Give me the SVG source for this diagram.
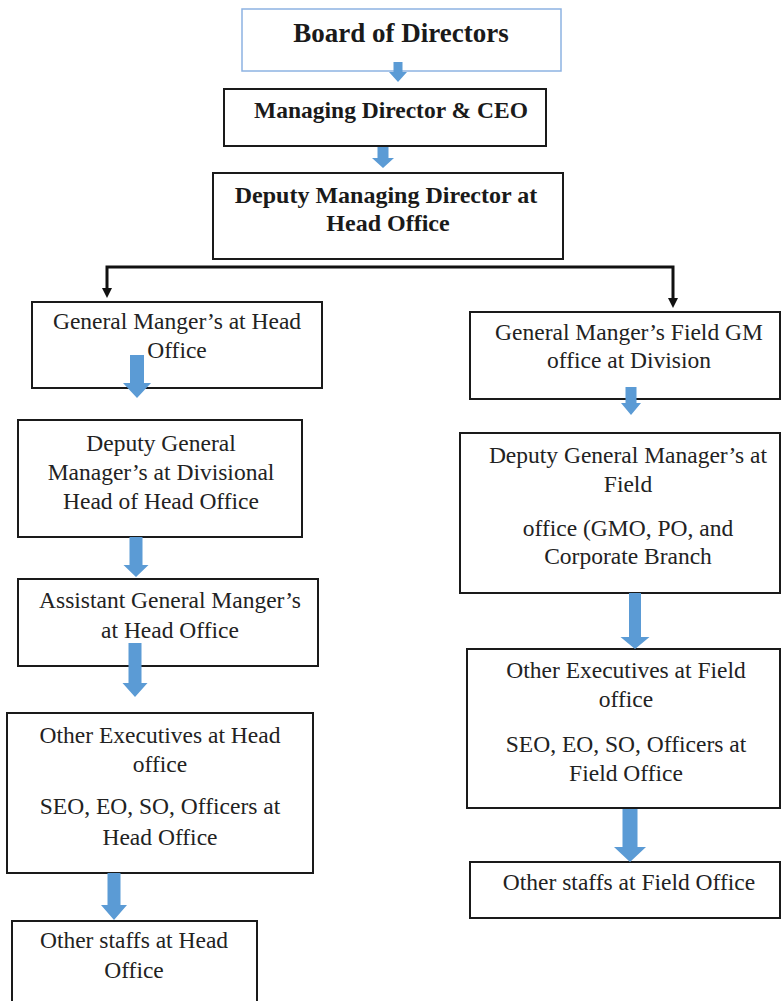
<svg xmlns="http://www.w3.org/2000/svg" width="782" height="1001" viewBox="0 0 782 1001">
<style>
.box{fill:#fff;stroke:#1a1a1a;stroke-width:2}
.bod{fill:#fff;stroke:#8DB3E2;stroke-width:1.5}
.t{font-family:"Liberation Serif","Times New Roman",serif;font-size:23.5px;fill:#222;text-anchor:middle}
.b{font-family:"Liberation Serif","Times New Roman",serif;font-weight:bold;fill:#1a1a1a;text-anchor:middle}
.ba{fill:#5B9BD5}
.conn{fill:none;stroke:#111;stroke-width:3}
</style>
<defs>
<marker id="ah" viewBox="0 0 10 10" refX="0" refY="5" markerWidth="10" markerHeight="10" markerUnits="userSpaceOnUse" orient="auto-start-reverse">
<path d="M0,0 L10,5 L0,10 z" fill="#111"/>
</marker>
</defs>
<rect width="782" height="1001" fill="#fff"/>

<g id="connectors">
<path class="conn" d="M107,288 L107,267 L673,267 L673,298" marker-start="url(#ah)" marker-end="url(#ah)"/>
</g>

<g id="board">
<rect class="bod" x="242" y="9" width="319" height="62"/>
<text class="b" x="401" y="42" font-size="27">Board of Directors</text>
</g>
<g id="md">
<rect class="box" x="224" y="89" width="322" height="57"/>
<text class="b" x="391" y="118" font-size="23.5">Managing Director &amp; CEO</text>
</g>
<g id="dmd">
<rect class="box" x="213" y="173" width="350" height="86"/>
<text class="b" x="386" y="203" font-size="24">Deputy Managing Director at</text>
<text class="b" x="388" y="231" font-size="24">Head Office</text>
</g>

<g id="gm-ho">
<rect class="box" x="32" y="302" width="290" height="86"/>
<text class="t" x="177" y="329">General Manger’s at Head</text>
<text class="t" x="177" y="358">Office</text>
</g>
<g id="dgm-ho">
<rect class="box" x="18" y="420" width="284" height="117"/>
<text class="t" x="161" y="451">Deputy General</text>
<text class="t" x="161" y="480">Manager’s at Divisional</text>
<text class="t" x="161" y="509">Head of Head Office</text>
</g>
<g id="agm-ho">
<rect class="box" x="18" y="579" width="300" height="87"/>
<text class="t" x="170" y="608">Assistant General Manger’s</text>
<text class="t" x="170" y="638">at Head Office</text>
</g>
<g id="oe-ho">
<rect class="box" x="7" y="713" width="306" height="160"/>
<text class="t" x="160" y="743">Other Executives at Head</text>
<text class="t" x="160" y="772">office</text>
<text class="t" x="160" y="814">SEO, EO, SO, Officers at</text>
<text class="t" x="160" y="845">Head Office</text>
</g>
<g id="os-ho">
<rect class="box" x="12" y="921" width="245" height="86"/>
<text class="t" x="134" y="948">Other staffs at Head</text>
<text class="t" x="134" y="978">Office</text>
</g>

<g id="gm-field">
<rect class="box" x="470" y="312" width="310" height="87"/>
<text class="t" x="629" y="340">General Manger’s Field GM</text>
<text class="t" x="629" y="368">office at Division</text>
</g>
<g id="dgm-field">
<rect class="box" x="460" y="433" width="320" height="160"/>
<text class="t" x="628" y="463">Deputy General Manager’s at</text>
<text class="t" x="628" y="492">Field</text>
<text class="t" x="628" y="536">office (GMO, PO, and</text>
<text class="t" x="628" y="564">Corporate Branch</text>
</g>
<g id="oe-field">
<rect class="box" x="467" y="649" width="313" height="159"/>
<text class="t" x="626" y="678">Other Executives at Field</text>
<text class="t" x="626" y="707">office</text>
<text class="t" x="626" y="752">SEO, EO, SO, Officers at</text>
<text class="t" x="626" y="781">Field Office</text>
</g>
<g id="os-field">
<rect class="box" x="470" y="862" width="310" height="56"/>
<text class="t" x="629" y="890">Other staffs at Field Office</text>
</g>

<g id="block-arrows">
<polygon class="ba" points="393.5,62 402.5,62 402.5,72 407,72 398,82 389,72 393.5,72"/>
<polygon class="ba" points="377.5,147 388.5,147 388.5,158 394,158 383,168 372,158 377.5,158"/>
<polygon class="ba" points="130,355 144,355 144,383 151,383 137,398 123,383 130,383"/>
<polygon class="ba" points="129.5,537 142.5,537 142.5,565 148.5,565 136,577 123.5,565 129.5,565"/>
<polygon class="ba" points="128.5,643 141.5,643 141.5,683 147.5,683 135,697 122.5,683 128.5,683"/>
<polygon class="ba" points="107.5,873 120.5,873 120.5,905 127,905 114,920 101,905 107.5,905"/>
<polygon class="ba" points="625.5,387 636.5,387 636.5,403 641,403 631,415 621,403 625.5,403"/>
<polygon class="ba" points="629,593 641,593 641,637 649.5,637 635,649 620.5,637 629,637"/>
<polygon class="ba" points="622.5,809 637.5,809 637.5,847 646,847 630,862 614,847 622.5,847"/>
</g>
</svg>
